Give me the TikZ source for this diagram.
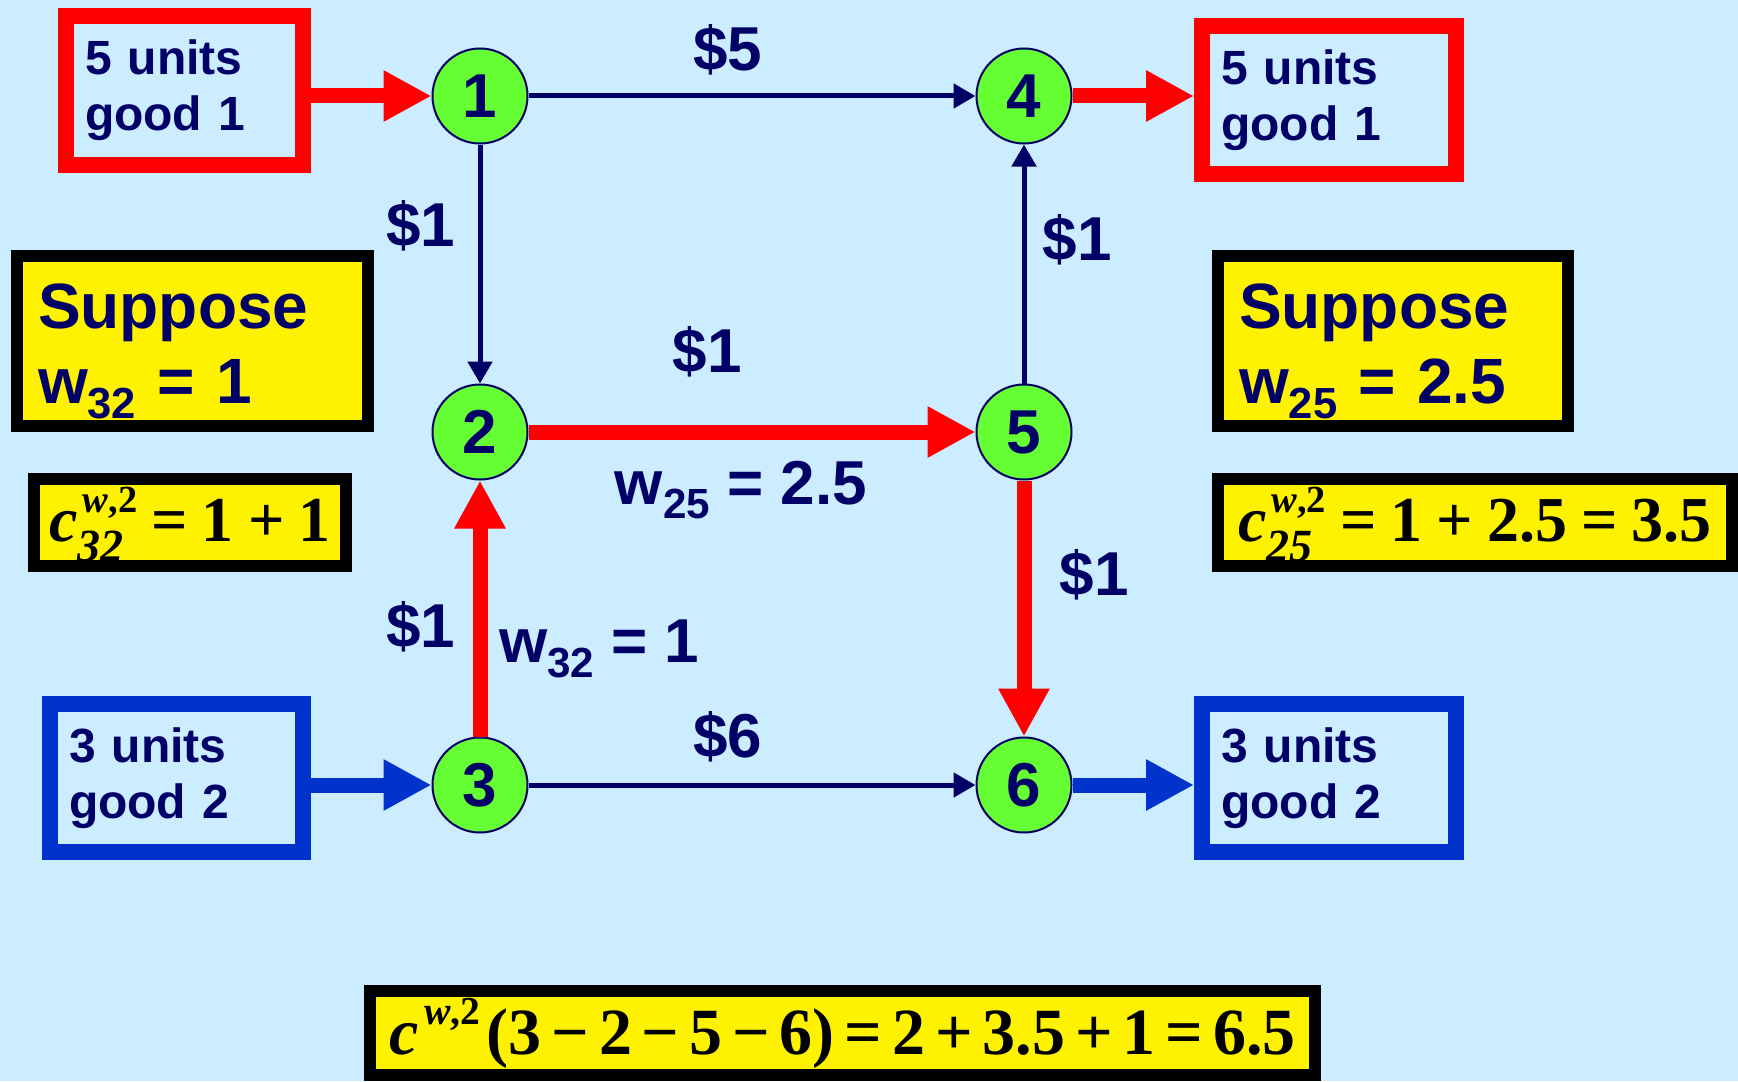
\documentclass[tikz,border=0pt]{standalone}
\usepackage{fontspec}
\setmainfont{Liberation Sans}
\newfontfamily\tmsfont{Liberation Serif}
\usetikzlibrary{arrows.meta}
\definecolor{sky}{RGB}{204,236,255}
\definecolor{navy}{RGB}{0,0,102}
\definecolor{leaf}{RGB}{102,255,51}
\definecolor{royal}{RGB}{0,51,204}
\newcommand{\wt}[1]{w\raisebox{-0.24em}{\scalebox{0.68}{#1}}}
\newcommand{\cwt}[1]{\textit{c}\makebox[0pt][l]{\raisebox{-0.32em}{\scalebox{0.72}{\itshape #1}}}%
  \hspace{0.08em}\raisebox{0.45em}{\scalebox{0.6}{\itshape w\upshape,2}}\hspace{0.22em}}
\newcommand{\gp}{\hspace{0.22em}}
\newcommand{\tg}{\hspace{0.15em}}

\begin{document}
\begin{tikzpicture}[
  x=0.5pt, y=-0.5pt, text=navy,
  >={Triangle[length=11pt,width=12pt]},
  vtx/.style={circle, draw=navy, line width=1pt, fill=leaf, minimum size=47.5pt,
              inner sep=0pt, font=\bfseries\fontsize{31}{31}\selectfont},
  stock/.style={draw, line width=8pt, minimum height=74pt, inner xsep=9.5pt,
                inner ysep=0pt, align=left, font=\bfseries\fontsize{24}{28}\selectfont},
  note/.style={draw=black, line width=6pt, fill=yellow, minimum height=85pt,
               inner xsep=10.5pt, inner ysep=0pt, align=left,
               text height=24pt, text depth=37pt,
               font=\bfseries\fontsize{32}{37.5}\selectfont},
  sum/.style={draw=black, line width=6pt, fill=yellow, minimum height=43.5pt,
              inner sep=0pt, text=black, text height=19pt, text depth=0pt,
              font=\tmsfont\bfseries\fontsize{32}{32}\selectfont},
  cost/.style={->, draw=navy, line width=2.5pt},
  flow/.style={-{Triangle[length=24pt,width=24pt]}, line width=7.5pt},
  lbl/.style={text=navy, font=\bfseries\fontsize{31}{31}\selectfont}]
\useasboundingbox (0,0) rectangle (1738,1081);
\fill[sky] (0,0) rectangle (1738,1081);
% network
\node[vtx] (n1) at (480,96) {1};
\node[vtx] (n4) at (1024,96) {4};
\node[vtx] (n2) at (480,432) {2};
\node[vtx] (n5) at (1024,432) {5};
\node[vtx] (n3) at (480,785) {3};
\node[vtx] (n6) at (1024,785) {6};
% supplies and demands
\node[stock, draw=red, text width=99.5pt] (src1) at (184.5,90.5) {5 units\\good 1};
\node[stock, draw=red, text width=108pt] (dst1) at (1329,100) {5 units\\good 1};
\node[stock, draw=royal, text width=107.5pt] (src2) at (176.5,778) {3 units\\good 2};
\node[stock, draw=royal, text width=108pt] (dst2) at (1329,778) {3 units\\good 2};
% assumptions
\node[note, text width=154.5pt] (sup32) at (192.5,341) {Suppose\\\wt{32} = 1};
\node[note, text width=154pt] (sup25) at (1393,341) {Suppose\\\wt{25} = 2.5};
\node[sum, minimum width=156pt] (c32) at (190,522.5) {\cwt{32}=\gp1\gp+\gp1};
\node[sum, minimum width=257pt] (c25) at (1475,522.5) {\cwt{25}=\gp1\gp+\gp2.5\gp=\gp3.5};
\node[sum, minimum width=472.5pt, minimum height=42pt, text height=21pt,
      font=\tmsfont\bfseries\fontsize{33}{33}\selectfont] (cpath) at (842.5,1033)
  {\textit{c}\hspace{0.08em}\raisebox{0.45em}{\scalebox{0.6}{\itshape w\upshape,2}}\hspace{0.1em}%
   (3\tg−\tg2\tg−\tg5\tg−\tg6)\tg=\tg2\tg+\tg3.5\tg+\tg1\tg=\tg6.5};
% arcs
\draw[cost] (n1) -- node[lbl, pos=.446, yshift=23pt] {\$5} (n4);
\draw[cost] (n1) -- node[lbl, pos=.34, xshift=-29.5pt] {\$1} (n2);
\draw[cost] (n5) -- node[lbl, pos=.6, xshift=26.5pt] {\$1} (n4);
\draw[cost] (n3) -- node[lbl, pos=.446, yshift=24pt] {\$6} (n6);
\draw[flow, draw=red] (n2) -- node[lbl, pos=.40, yshift=40pt] {\$1}
  node[lbl, pos=.475, yshift=-36pt, anchor=base] {\wt{25} = 2.5} (n5);
\draw[flow, draw=red] (n3) -- node[lbl, pos=.43, xshift=-29.5pt] {\$1}
  node[lbl, pos=.29, xshift=2.5pt, anchor=base west] {\wt{32} = 1} (n2);
\draw[flow, draw=red] (n5) -- node[lbl, pos=.37, xshift=35pt] {\$1} (n6);
% in and out
\draw[flow, draw=red] (src1.east |- n1) -- (n1);
\draw[flow, draw=red] (n4) -- (n4 -| dst1.west);
\draw[flow, draw=royal] (src2.east |- n3) -- (n3);
\draw[flow, draw=royal] (n6) -- (n6 -| dst2.west);
\end{tikzpicture}
\end{document}
